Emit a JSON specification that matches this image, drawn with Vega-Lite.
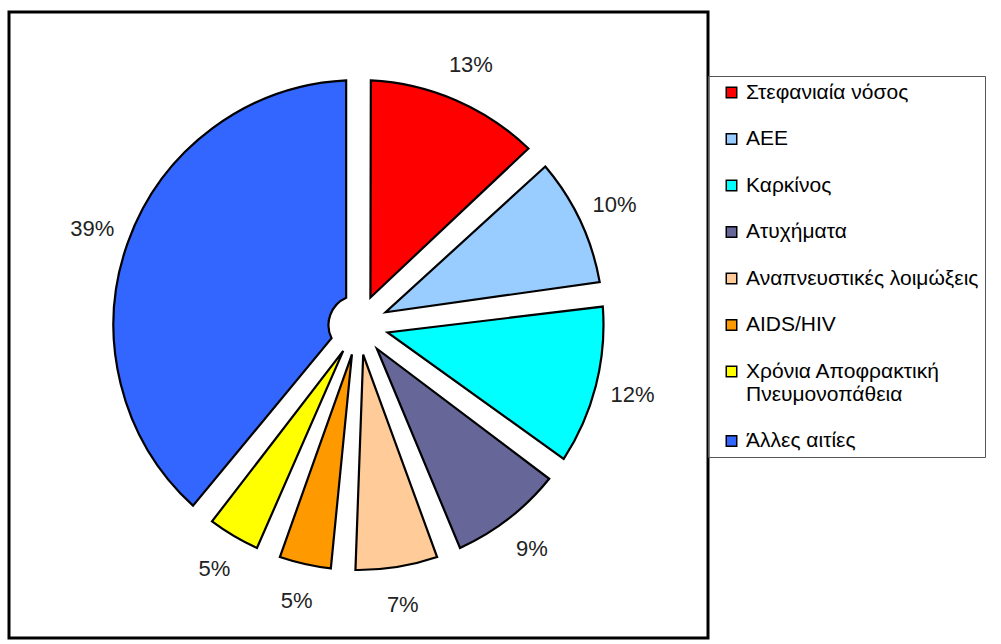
{
  "$schema": "https://vega.github.io/schema/vega-lite/v6.json",
  "width": 699,
  "height": 626,
  "autosize": {"type": "none"},
  "padding": {"left": 9, "top": 12, "right": 293, "bottom": 6},
  "background": "white",
  "view": {"stroke": "black", "strokeWidth": 3, "fill": null},
  "config": {
    "view": {"stroke": "black", "strokeWidth": 3},
    "font": "Liberation Sans"
  },
  "data": {
    "values": [
      {"rank": 1, "cause": "Στεφανιαία νόσος", "share": 0.13},
      {"rank": 2, "cause": "ΑΕΕ", "share": 0.10},
      {"rank": 3, "cause": "Καρκίνος", "share": 0.12},
      {"rank": 4, "cause": "Ατυχήματα", "share": 0.09},
      {"rank": 5, "cause": "Αναπνευστικές λοιμώξεις", "share": 0.07},
      {"rank": 6, "cause": "AIDS/HIV", "share": 0.05},
      {"rank": 7, "cause": "Χρόνια Αποφρακτική Πνευμονοπάθεια", "share": 0.05},
      {"rank": 8, "cause": "Άλλες αιτίες", "share": 0.39}
    ]
  },
  "encoding": {
    "theta": {"field": "share", "type": "quantitative", "stack": true},
    "order": {"field": "rank", "type": "quantitative"}
  },
  "layer": [
    {
      "mark": {
        "type": "arc",
        "innerRadius": 30,
        "outerRadius": 245,
        "padAngle": 0.1,
        "stroke": "black",
        "strokeWidth": 2.2,
        "strokeJoin": "miter"
      },
      "encoding": {
        "color": {
          "field": "cause",
          "type": "nominal",
          "sort": null,
          "scale": {
            "domain": ["Στεφανιαία νόσος", "ΑΕΕ", "Καρκίνος", "Ατυχήματα", "Αναπνευστικές λοιμώξεις", "AIDS/HIV", "Χρόνια Αποφρακτική Πνευμονοπάθεια", "Άλλες αιτίες"],
            "range": ["#FF0000", "#99CCFF", "#00FFFF", "#666699", "#FFCC99", "#FF9900", "#FFFF00", "#3366FF"]
          },
          "legend": {
            "title": null,
            "orient": "none",
            "legendX": 699,
            "legendY": 64,
            "strokeColor": "#555555",
            "padding": 6,
            "symbolType": "square",
            "symbolSize": 110,
            "symbolStrokeColor": "black",
            "symbolStrokeWidth": 1.5,
            "symbolOffset": 7,
            "labelFont": "Liberation Sans",
            "labelFontSize": 21,
            "labelColor": "black",
            "labelOffset": 4,
            "labelLimit": 400,
            "rowPadding": 24.5,
            "labelExpr": "datum.label == 'Χρόνια Αποφρακτική Πνευμονοπάθεια' ? ['Χρόνια Αποφρακτική', 'Πνευμονοπάθεια'] : datum.label"
          }
        }
      }
    },
    {
      "mark": {
        "type": "text",
        "radius": 283,
        "font": "Liberation Sans",
        "fontSize": 22,
        "fill": "#222222"
      },
      "encoding": {
        "text": {"field": "share", "type": "quantitative", "format": ".0%"}
      }
    }
  ]
}
